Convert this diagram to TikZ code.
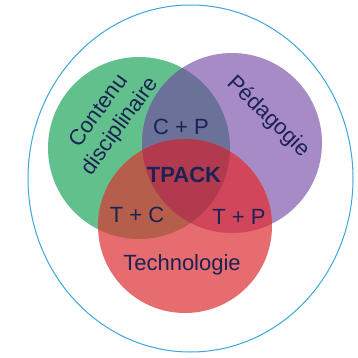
\documentclass[tikz,border=0pt]{standalone}
\usepackage{fontspec}
\setmainfont{Liberation Sans}
\usetikzlibrary{positioning}

\definecolor{vert}{RGB}{98,192,140}
\definecolor{violet}{RGB}{167,139,198}
\definecolor{rouge}{RGB}{230,108,111}
\definecolor{mixcp}{RGB}{107,113,153}
\definecolor{mixtc}{RGB}{181,94,76}
\definecolor{mixtp}{RGB}{210,70,92}
\definecolor{mixall}{RGB}{178,58,79}
\definecolor{encre}{RGB}{28,34,84}
\definecolor{bord}{RGB}{58,168,216}

\begin{document}
\begin{tikzpicture}[x=1pt, y=-1pt,
  ring/.style={circle, inner sep=0pt},
  lbl/.style={text=encre, font=\fontsize{22}{26}\selectfont, align=center, inner sep=0pt}
]
  \useasboundingbox (0,0) rectangle (357,358);
  \fill[white] (0,0) rectangle (357,358);
  \draw[bord, line width=1pt] (190.5,178.5) ellipse [x radius=162.5, y radius=173.5];

  % the three domains
  \node[ring, fill=vert, minimum size=182pt] (contenu) at (139,148) {};
  \node[ring, fill=violet, minimum size=180pt] (pedagogie) at (232,143) {};
  \node[ring, fill=rouge, minimum size=174pt] (techno) at (185,226) {};

  % overlaps
  \begin{scope}
    \clip (139,148) circle (91);
    \fill[mixcp] (232,143) circle (90);
    \fill[mixtc] (185,226) circle (87);
  \end{scope}
  \begin{scope}
    \clip (232,143) circle (90);
    \fill[mixtp] (185,226) circle (87);
    \clip (139,148) circle (91);
    \fill[mixall] (185,226) circle (87);
  \end{scope}

  % labels
  \node[lbl, rotate=54] (contenulbl) at (110,119) {Contenu\\disciplinaire};
  \node[lbl, rotate=-44] (pedagolbl) at (268,117) {Pédagogie};
  \node[lbl] (cp) at (181,127) {C + P};
  \node[lbl, font=\fontsize{22}{26}\selectfont\bfseries] (tpack) at (184,175) {TPACK};
  \node[lbl] (tc) at (137,215) {T + C};
  \node[lbl] (tp) at (239,217) {T + P};
  \node[lbl] (technolbl) at (182,265) {Technologie};
\end{tikzpicture}
\end{document}
